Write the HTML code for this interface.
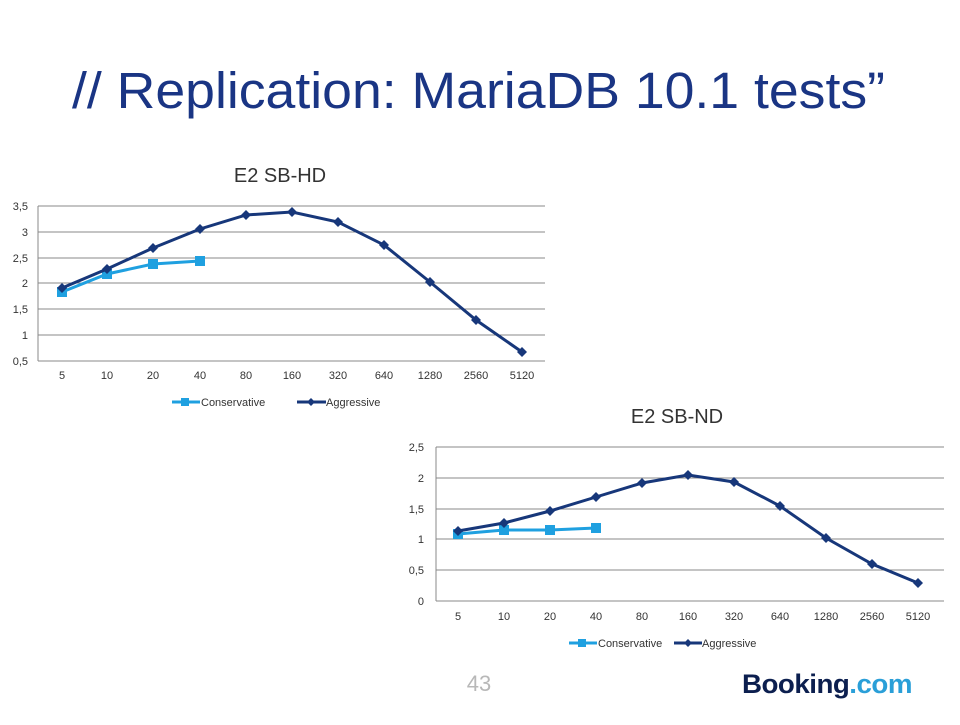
<!DOCTYPE html>
<html><head><meta charset="utf-8"><style>
body{margin:0;width:960px;height:720px;background:#fff;overflow:hidden;font-family:"Liberation Sans",sans-serif}
</style></head><body>
<svg width="960" height="720" xmlns="http://www.w3.org/2000/svg" font-family="Liberation Sans, sans-serif">
<text x="72" y="108" font-size="51" fill="#1a3584" textLength="813" lengthAdjust="spacingAndGlyphs">// Replication: MariaDB 10.1 tests”</text>
<text x="280" y="182" text-anchor="middle" font-size="20" fill="#333">E2 SB-HD</text>
<text x="677" y="423" text-anchor="middle" font-size="20" fill="#333">E2 SB-ND</text>
<g id="c1" font-size="11" fill="#333">
<g stroke="#888" stroke-width="1">
<line x1="38" x2="545" y1="206" y2="206"/><line x1="38" x2="545" y1="232" y2="232"/><line x1="38" x2="545" y1="258" y2="258"/><line x1="38" x2="545" y1="283" y2="283"/><line x1="38" x2="545" y1="309" y2="309"/><line x1="38" x2="545" y1="335" y2="335"/><line x1="38" x2="545" y1="361" y2="361"/><line x1="38" x2="38" y1="206" y2="361"/>
</g>
<g text-anchor="end"><text x="28" y="210">3,5</text><text x="28" y="236">3</text><text x="28" y="262">2,5</text><text x="28" y="287">2</text><text x="28" y="313">1,5</text><text x="28" y="339">1</text><text x="28" y="365">0,5</text></g>
<g text-anchor="middle"><text x="62" y="379">5</text><text x="107" y="379">10</text><text x="153" y="379">20</text><text x="200" y="379">40</text><text x="246" y="379">80</text><text x="292" y="379">160</text><text x="338" y="379">320</text><text x="384" y="379">640</text><text x="430" y="379">1280</text><text x="476" y="379">2560</text><text x="522" y="379">5120</text></g>
<polyline fill="none" stroke="#1fa0e0" stroke-width="3" points="62,292 107,274 153,264 200,261"/>
<g fill="#1fa0e0"><rect x="57" y="287" width="10" height="10"/><rect x="102" y="269" width="10" height="10"/><rect x="148" y="259" width="10" height="10"/><rect x="195" y="256" width="10" height="10"/></g>
<polyline fill="none" stroke="#17377a" stroke-width="3" points="62,288 107,269 153,248 200,229 246,215 292,212 338,222 384,245 430,282 476,320 522,352"/>
<g fill="#17377a"><path d="M62,283l5,5-5,5-5-5z"/><path d="M107,264l5,5-5,5-5-5z"/><path d="M153,243l5,5-5,5-5-5z"/><path d="M200,224l5,5-5,5-5-5z"/><path d="M246,210l5,5-5,5-5-5z"/><path d="M292,207l5,5-5,5-5-5z"/><path d="M338,217l5,5-5,5-5-5z"/><path d="M384,240l5,5-5,5-5-5z"/><path d="M430,277l5,5-5,5-5-5z"/><path d="M476,315l5,5-5,5-5-5z"/><path d="M522,347l5,5-5,5-5-5z"/></g>
<line x1="172" x2="200" y1="402" y2="402" stroke="#1fa0e0" stroke-width="3"/><rect x="181" y="398" width="8" height="8" fill="#1fa0e0"/>
<text x="201" y="406">Conservative</text>
<line x1="297" x2="326" y1="402" y2="402" stroke="#17377a" stroke-width="3"/><path d="M311,398l4,4-4,4-4-4z" fill="#17377a"/>
<text x="326" y="406">Aggressive</text>
</g>
<g font-size="11" fill="#333">
<g stroke="#888" stroke-width="1">
<line x1="436" x2="944" y1="447" y2="447"/><line x1="436" x2="944" y1="478" y2="478"/><line x1="436" x2="944" y1="509" y2="509"/><line x1="436" x2="944" y1="539" y2="539"/><line x1="436" x2="944" y1="570" y2="570"/><line x1="436" x2="944" y1="601" y2="601"/><line x1="436" x2="436" y1="447" y2="601"/>
</g>
<g text-anchor="end"><text x="424" y="451">2,5</text><text x="424" y="482">2</text><text x="424" y="513">1,5</text><text x="424" y="543">1</text><text x="424" y="574">0,5</text><text x="424" y="605">0</text></g>
<g text-anchor="middle"><text x="458" y="620">5</text><text x="504" y="620">10</text><text x="550" y="620">20</text><text x="596" y="620">40</text><text x="642" y="620">80</text><text x="688" y="620">160</text><text x="734" y="620">320</text><text x="780" y="620">640</text><text x="826" y="620">1280</text><text x="872" y="620">2560</text><text x="918" y="620">5120</text></g>
<polyline fill="none" stroke="#1fa0e0" stroke-width="3" points="458,534 504,530 550,530 596,528"/>
<g fill="#1fa0e0"><rect x="453" y="529" width="10" height="10"/><rect x="499" y="525" width="10" height="10"/><rect x="545" y="525" width="10" height="10"/><rect x="591" y="523" width="10" height="10"/></g>
<polyline fill="none" stroke="#17377a" stroke-width="3" points="458,531 504,523 550,511 596,497 642,483 688,475 734,482 780,506 826,538 872,564 918,583"/>
<g fill="#17377a"><path d="M458,526l5,5-5,5-5-5z"/><path d="M504,518l5,5-5,5-5-5z"/><path d="M550,506l5,5-5,5-5-5z"/><path d="M596,492l5,5-5,5-5-5z"/><path d="M642,478l5,5-5,5-5-5z"/><path d="M688,470l5,5-5,5-5-5z"/><path d="M734,477l5,5-5,5-5-5z"/><path d="M780,501l5,5-5,5-5-5z"/><path d="M826,533l5,5-5,5-5-5z"/><path d="M872,559l5,5-5,5-5-5z"/><path d="M918,578l5,5-5,5-5-5z"/></g>
<line x1="569" x2="597" y1="643" y2="643" stroke="#1fa0e0" stroke-width="3"/><rect x="578" y="639" width="8" height="8" fill="#1fa0e0"/>
<text x="598" y="647">Conservative</text>
<line x1="674" x2="702" y1="643" y2="643" stroke="#17377a" stroke-width="3"/><path d="M688,639l4,4-4,4-4-4z" fill="#17377a"/>
<text x="702" y="647">Aggressive</text>
</g>
<text x="479" y="691" text-anchor="middle" font-size="22" fill="#b8b8b8">43</text>
<text x="742" y="693" font-size="27" font-weight="bold" fill="#0c1f4f" letter-spacing="-0.5" textLength="170" lengthAdjust="spacingAndGlyphs">Booking<tspan fill="#2a9fd8">.com</tspan></text>
</svg>
</body></html>
